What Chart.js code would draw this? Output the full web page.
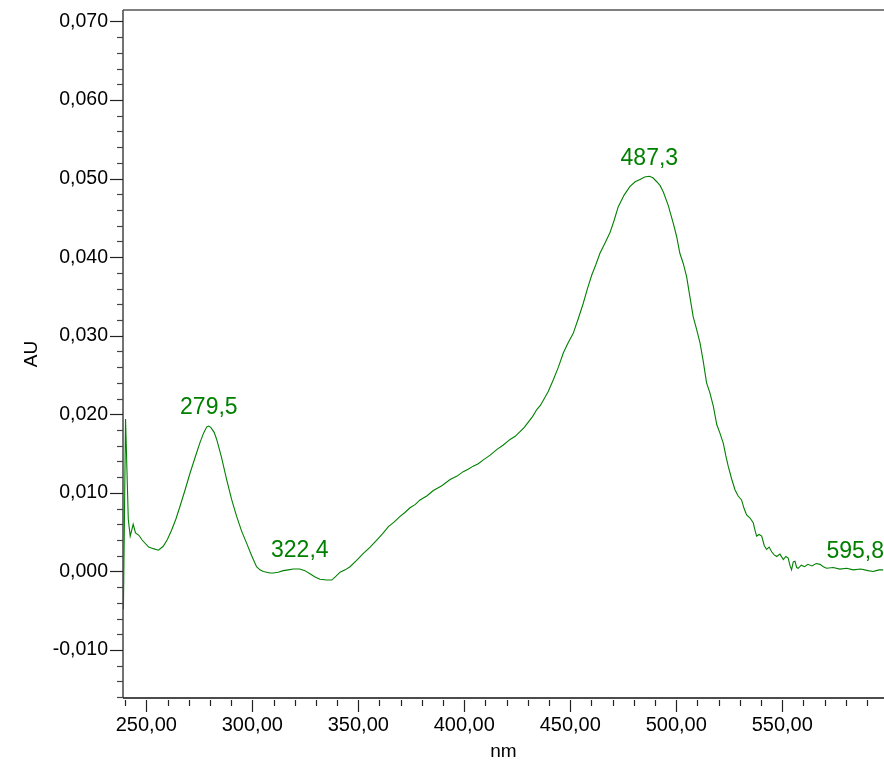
<!DOCTYPE html>
<html>
<head>
<meta charset="utf-8">
<script src="https://cdn.jsdelivr.net/npm/chart.js@4"></script>
<style>
  html, body { margin: 0; padding: 0; background: #fff; }
  #c { display: block; }
</style>
</head>
<body>
<canvas id="c" width="884" height="767"></canvas>
<script>
// Absorbance spectrum: wavelength (nm) and absorbance (AU)
const wavelengths = [
  239.2, 240.2, 241.5, 242.4, 243.8, 244.9, 246.5, 248.0, 251.1, 253.3, 255.7,
  258.0, 260.0, 262.0, 264.0, 265.9, 268.2, 270.6, 273.0, 275.3, 277.0, 278.5, 279.5, 280.5,
  282.0, 283.2, 285.5, 287.9, 290.2, 292.6, 295.0, 297.3, 299.7, 302.0, 303.6, 305.2, 306.8, 308.4,
  309.9, 312.2, 314.6, 317.0, 319.3, 322.4, 324.8, 327.2, 329.6,
  331.9, 335.1, 337.5, 339.5, 341.4, 343.8, 346.1, 349.2, 352.4, 355.6, 358.7, 361.5, 364.2, 367.0,
  369.7, 372.0, 374.4, 376.8, 379.1, 382.3, 385.4, 389.4, 393.3, 396.4, 399.5, 401.8, 404.2, 406.6,
  409.0, 412.2, 415.3, 418.4, 421.6, 424.0, 426.3, 428.2, 430.2, 432.2, 434.2, 435.8, 437.3, 439.6,
  442.0, 444.4, 446.7, 449.0, 451.4, 453.8, 456.1, 458.1, 460.1, 462.0, 464.0, 466.4, 468.7, 470.6,
  472.6, 475.4, 478.2, 480.6, 482.9, 485.1, 487.3, 489.0, 490.8, 492.4, 493.9, 496.2, 498.6, 500.2,
  501.7, 503.3, 504.9, 506.4, 508.0, 509.6, 511.2, 512.7, 514.3, 515.9, 517.5, 519.1, 520.6, 522.2,
  523.4, 524.5, 526.1, 527.7, 529.2, 530.8, 532.0, 533.2, 534.8, 536.3, 537.1, 537.9, 539.1, 540.3,
  541.5, 542.6, 543.8, 545.0, 546.2, 547.4, 548.9, 550.5, 551.7, 552.8, 553.6, 554.4, 555.2, 556.0,
  556.8, 557.5, 559.0, 560.5, 562.1, 564.0, 566.0, 567.8, 569.4, 570.9, 574.0, 577.2, 580.4, 583.5,
  587.0, 590.5, 592.9, 594.3, 595.8, 597.6
];
const absorbance = [
  -0.0048, 0.0194, 0.0066, 0.0045, 0.0060, 0.0049, 0.0046, 0.0040, 0.0031, 0.0029, 0.0027,
  0.0032, 0.0041, 0.0053, 0.0067, 0.0083, 0.0103, 0.0125, 0.0145, 0.0164, 0.0176, 0.0184, 0.0185, 0.0183,
  0.0177, 0.0168, 0.0145, 0.0117, 0.0092, 0.0070, 0.0051, 0.0036, 0.0020, 0.0006, 0.0002, 0.0000, -0.0001, -0.0002,
  -0.0002, -0.0001, 0.0001, 0.0002, 0.0003, 0.0003, 0.0001, -0.0003, -0.0007,
  -0.0010, -0.0011, -0.0011, -0.0006, -0.0001, 0.0002, 0.0006, 0.0014, 0.0023, 0.0031, 0.0040, 0.0048, 0.0057, 0.0063,
  0.0070, 0.0075, 0.0081, 0.0085, 0.0091, 0.0096, 0.0103, 0.0109, 0.0117, 0.0121, 0.0127, 0.0130, 0.0134, 0.0137,
  0.0142, 0.0148, 0.0155, 0.0161, 0.0168, 0.0172, 0.0178, 0.0183, 0.0190, 0.0197, 0.0206, 0.0211, 0.0218, 0.0229,
  0.0244, 0.0260, 0.0278, 0.0291, 0.0303, 0.0322, 0.0341, 0.0360, 0.0377, 0.0390, 0.0405, 0.0418, 0.0431, 0.0446,
  0.0464, 0.0479, 0.0490, 0.0496, 0.0499, 0.0502, 0.0503, 0.0501, 0.0496, 0.0491, 0.0483, 0.0466, 0.0443, 0.0426,
  0.0405, 0.0392, 0.0375, 0.0350, 0.0324, 0.0308, 0.0291, 0.0268, 0.0240, 0.0227, 0.0210, 0.0187, 0.0176, 0.0163,
  0.0147, 0.0134, 0.0118, 0.0104, 0.0096, 0.0091, 0.0080, 0.0072, 0.0068, 0.0062, 0.0053, 0.0045, 0.0047, 0.0045,
  0.0033, 0.0028, 0.0031, 0.0025, 0.0021, 0.0019, 0.0022, 0.0015, 0.0019, 0.0017, 0.0008, 0.0002, 0.0012, 0.0013,
  0.0005, 0.0004, 0.0008, 0.0006, 0.0009, 0.0007, 0.0010, 0.0009, 0.0006, 0.0004, 0.0005, 0.0003, 0.0004, 0.0002,
  0.0003, 0.0001, 0.0000, 0.0001, 0.0002, 0.0002
];

// Annotated peaks
const peakNm = [279.5, 322.4, 487.3, 595.8];
const peakAU = [0.0185, 0.0003, 0.0503, 0.0002];
const peakText = ['279,5', '322,4', '487,3', '595,8'];

const xMin = 239.0, xMax = 598.0;
const yMin = -0.01611, yMax = 0.07146;
const xTitle = 'nm';
const yTitle = 'AU';

const FONT = '"Liberation Sans", Arial, sans-serif';
const GREEN = '#008000';

const fmtX = v => (Math.round(v) % 50 === 0) ? Math.round(v).toFixed(2).replace('.', ',') : '';
const fmtY = v => {
  const m = Math.round(v * 1000);
  return (m % 10 === 0) ? (m / 1000).toFixed(3).replace('.', ',') : '';
};

// Tick marks (long for labelled, short for unlabelled), axis frame, titles, peak labels
const decor = {
  id: 'decor',
  afterDraw(chart) {
    const ctx = chart.ctx;
    const a = chart.chartArea;
    const xs = chart.scales.x, ys = chart.scales.y;
    ctx.save();

    // frame
    ctx.strokeStyle = '#808080';
    ctx.lineWidth = 2;
    ctx.beginPath(); ctx.moveTo(a.left, a.top); ctx.lineTo(a.right, a.top); ctx.stroke();
    ctx.strokeStyle = '#444';
    ctx.lineWidth = 1.5;
    ctx.beginPath(); ctx.moveTo(a.left, a.top); ctx.lineTo(a.left, a.bottom); ctx.stroke();
    ctx.strokeStyle = '#111';
    ctx.beginPath(); ctx.moveTo(a.left, a.bottom); ctx.lineTo(a.right, a.bottom); ctx.stroke();

    // x ticks
    ctx.strokeStyle = '#222';
    ctx.lineWidth = 1.2;
    xs.ticks.forEach(t => {
      const px = Math.round(xs.getPixelForValue(t.value)) + 0.5;
      const major = fmtX(t.value) !== '';
      ctx.beginPath();
      ctx.moveTo(px, a.bottom + 2);
      ctx.lineTo(px, a.bottom + (major ? 14 : 8));
      ctx.stroke();
    });
    // y ticks
    ys.ticks.forEach(t => {
      const py = Math.round(ys.getPixelForValue(t.value)) + 0.5;
      const major = fmtY(t.value) !== '';
      ctx.strokeStyle = major ? '#222' : '#444';
      ctx.beginPath();
      ctx.moveTo(a.left, py);
      ctx.lineTo(a.left - (major ? 13 : 6), py);
      ctx.stroke();
    });

    // axis titles
    ctx.fillStyle = '#000';
    ctx.font = '19px ' + FONT;
    ctx.textAlign = 'center';
    ctx.textBaseline = 'middle';
    ctx.fillText(xTitle, (a.left + a.right) / 2, 752);
    ctx.save();
    ctx.translate(32, (a.top + a.bottom) / 2);
    ctx.rotate(-Math.PI / 2);
    ctx.fillText(yTitle, 0, 0);
    ctx.restore();

    // peak labels
    ctx.fillStyle = GREEN;
    ctx.font = '23px ' + FONT;
    ctx.textBaseline = 'middle';
    peakNm.forEach((nm, i) => {
      const px = xs.getPixelForValue(nm);
      const py = ys.getPixelForValue(peakAU[i]) - 18;
      const w = ctx.measureText(peakText[i]).width;
      const cx = Math.min(px, a.right - w / 2);
      ctx.textAlign = 'center';
      ctx.fillText(peakText[i], cx, py);
    });
    ctx.restore();
  }
};

new Chart(document.getElementById('c'), {
  type: 'line',
  data: {
    datasets: [{
      data: wavelengths.map((w, i) => ({ x: w, y: absorbance[i] })),
      borderColor: GREEN,
      borderWidth: 1.1,
      pointRadius: 0,
      tension: 0,
      fill: false
    }]
  },
  options: {
    responsive: false,
    animation: false,
    devicePixelRatio: 1,
    layout: { padding: { left: 0, right: 0, top: 10, bottom: 0 } },
    plugins: { legend: { display: false }, tooltip: { enabled: false } },
    scales: {
      x: {
        type: 'linear',
        min: xMin, max: xMax,
        afterFit(s) { s.height = 69; s.paddingLeft = 0; s.paddingRight = 0; },
        border: { display: false },
        grid: { display: true, drawOnChartArea: false, drawTicks: false, color: 'rgba(0,0,0,0)' },
        ticks: {
          stepSize: 10, includeBounds: false, autoSkip: false, maxRotation: 0,
          padding: 15, color: '#000', font: { family: FONT, size: 20 },
          callback: v => fmtX(v)
        }
      },
      y: {
        type: 'linear',
        min: yMin, max: yMax,
        afterFit(s) { s.width = 123; s.paddingTop = 0; s.paddingBottom = 0; },
        border: { display: false },
        grid: { display: true, drawOnChartArea: false, drawTicks: false, color: 'rgba(0,0,0,0)' },
        ticks: {
          stepSize: 0.002, includeBounds: false, autoSkip: false, maxTicksLimit: 100,
          padding: 15, color: '#000', font: { family: FONT, size: 19.5 },
          callback: v => fmtY(v)
        }
      }
    }
  },
  plugins: [decor]
});
</script>
</body>
</html>
